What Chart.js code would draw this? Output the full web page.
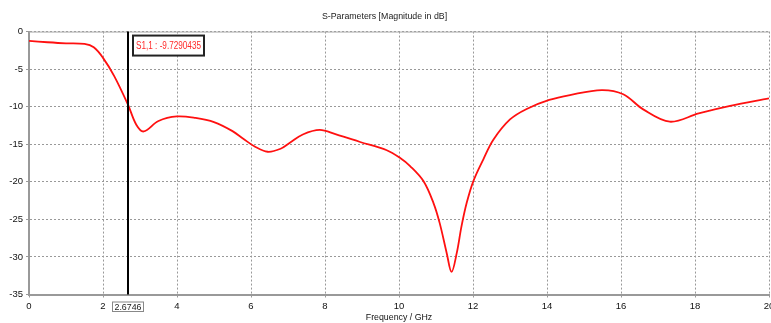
<!DOCTYPE html>
<html>
<head>
<meta charset="utf-8">
<script src="https://cdn.jsdelivr.net/npm/chart.js@4/dist/chart.umd.min.js"></script>
<style>
  html, body { margin: 0; padding: 0; background: #fff; }
  #wrap { width: 771px; height: 323px; position: relative; }
</style>
</head>
<body>
<div id="wrap"><canvas id="chart"></canvas></div>
<script>
const freqGHz = [0, 0.5, 1, 1.5, 1.75, 2, 2.3, 2.6746, 2.9, 3.1, 3.5, 4, 4.5, 5, 5.5, 5.8, 6.1, 6.45, 6.8, 7.05, 7.4, 7.86, 8.3, 8.95, 9.67, 10.05, 10.3, 10.66, 10.93, 11.1, 11.29, 11.42, 11.56, 11.69, 11.83, 12.01, 12.28, 12.55, 13.0, 13.45, 14.06, 14.62, 15.48, 16.06, 16.6, 17.32, 18.1, 18.95, 20];
const s11dB = [-1.25, -1.42, -1.56, -1.65, -2.1, -3.5, -5.9, -9.73, -12.4, -13.3, -11.9, -11.3, -11.5, -12.05, -13.25, -14.3, -15.3, -16.0, -15.6, -14.8, -13.7, -13.1, -13.7, -14.7, -15.8, -16.9, -17.9, -19.9, -22.8, -25.5, -29.5, -32.0, -29.5, -25.9, -22.8, -19.9, -17.0, -14.4, -11.7, -10.3, -9.1, -8.45, -7.8, -8.35, -10.36, -12.0, -10.9, -9.9, -8.9];
const markerFreq = 2.6746;
const markerLabel = 'S1,1 : -9.7290435';

const FONT = '"Liberation Sans", Arial, sans-serif';

// draw text squeezed horizontally so it fits a given width
function fitText(ctx, text, cx, cy, maxW) {
  const w = ctx.measureText(text).width;
  const k = Math.min(1, maxW / w);
  ctx.save();
  ctx.translate(cx, cy);
  ctx.scale(k, 1);
  ctx.fillText(text, 0, 0);
  ctx.restore();
}

const markerPlugin = {
  id: 'marker',
  afterDatasetsDraw(chart) {
    const { ctx, chartArea, scales } = chart;
    const x = Math.round(scales.x.getPixelForValue(markerFreq));
    ctx.save();
    // top frame line
    ctx.strokeStyle = '#aaa';
    ctx.lineWidth = 1;
    ctx.beginPath();
    ctx.moveTo(chartArea.left, chartArea.top + 0.5);
    ctx.lineTo(chartArea.right, chartArea.top + 0.5);
    ctx.stroke();
    // marker line
    ctx.strokeStyle = '#000';
    ctx.lineWidth = 2;
    ctx.beginPath();
    ctx.moveTo(x, chartArea.top);
    ctx.lineTo(x, chartArea.bottom);
    ctx.stroke();
    // value label
    ctx.font = '10px ' + FONT;
    ctx.textBaseline = 'middle';
    ctx.textAlign = 'center';
    const bx = x + 5, by = chartArea.top + 4;
    ctx.fillStyle = '#fff';
    ctx.fillRect(bx, by, 71, 20);
    ctx.lineWidth = 2;
    ctx.strokeStyle = '#222';
    ctx.strokeRect(bx, by, 71, 20);
    ctx.fillStyle = '#ff2a2a';
    fitText(ctx, markerLabel, bx + 35.5, by + 10.5, 65);
    // frequency label box under the axis
    const ft = String(markerFreq);
    const fy = chartArea.bottom + 7;
    ctx.fillStyle = '#fff';
    ctx.fillRect(x - 16, fy, 32, 10);
    ctx.lineWidth = 1;
    ctx.strokeStyle = '#888';
    ctx.strokeRect(x - 15.5, fy + 0.5, 31, 9.5);
    ctx.fillStyle = '#222';
    ctx.font = '9.5px ' + FONT;
    fitText(ctx, ft, x, fy + 5.5, 27);
    ctx.restore();
  }
};

new Chart(document.getElementById('chart'), {
  type: 'line',
  data: {
    labels: freqGHz,
    datasets: [{
      data: freqGHz.map((f, i) => ({ x: f, y: s11dB[i] })),
      borderColor: '#ff1010',
      borderWidth: 1.8,
      pointRadius: 0,
      fill: false,
      tension: 0.35
    }]
  },
  options: {
    responsive: true,
    maintainAspectRatio: false,
    animation: false,
    layout: { padding: { left: 0, right: 2, top: 0, bottom: 0 } },
    plugins: {
      legend: { display: false },
      tooltip: { enabled: false },
      title: {
        display: true,
        text: 'S-Parameters [Magnitude in dB]',
        color: '#222',
        font: { family: FONT, size: 8.8, weight: 'normal' },
        padding: { top: 11, bottom: 10 }
      }
    },
    scales: {
      x: {
        type: 'linear',
        min: 0,
        max: 20,
        ticks: { stepSize: 2, autoSkip: false, maxRotation: 0, color: '#111', padding: 3, font: { family: FONT, size: 9.5 } },
        grid: { color: '#999', lineWidth: 1, tickLength: 3 },
        border: { display: true, color: '#999', width: 2, dash: [2, 2] },
        title: { display: true, text: 'Frequency / GHz', color: '#111', padding: { top: 0, bottom: 0 }, font: { family: FONT, size: 8.8 } },
        afterFit(scale) { scale.height = 28.5; scale.paddingLeft = 0; scale.paddingRight = 0; }
      },
      y: {
        min: -35,
        max: 0,
        ticks: { stepSize: 5, color: '#111', padding: 3, font: { family: FONT, size: 9.5 } },
        grid: { color: '#999', lineWidth: 1, tickLength: 3 },
        border: { display: true, color: '#999', width: 2, dash: [2, 2] },
        afterFit(scale) { scale.width = 29; scale.paddingTop = 0; scale.paddingBottom = 0; }
      }
    }
  },
  plugins: [markerPlugin]
});
</script>
</body>
</html>
